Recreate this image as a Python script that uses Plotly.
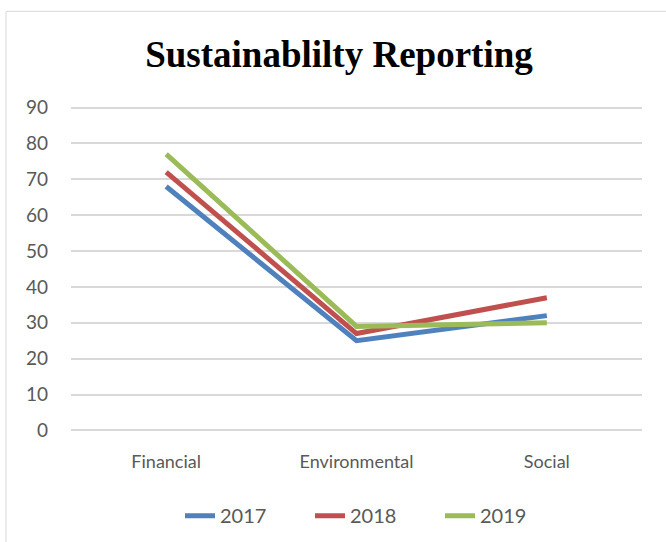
import plotly.graph_objects as go

categories = ["Financial", "Environmental", "Social"]
series_names = ["2017", "2018", "2019"]
values_2017 = [68, 25, 32]
values_2018 = [72, 27, 37]
values_2019 = [77, 29, 30]
colors = ["#4F81BD", "#C0504D", "#9BBB59"]
title_text = "Sustainablilty Reporting"

fig = go.Figure()
for name, vals, col in zip(series_names, [values_2017, values_2018, values_2019], colors):
    fig.add_trace(go.Scatter(x=categories, y=vals, mode="lines", name=name,
                             line=dict(color=col, width=5)))

W, H = 666, 542
top90, bot0 = 108, 430
upp = (bot0 - top90) / 90.0  # pixels per unit
pad = 1.0
L, R = 71, 24
T = top90 - pad * upp
B = H - bot0 - pad * upp
pw, ph = W - L - R, H - T - B

def px2x(px):
    return (px - L) / pw

def py2y(py):
    return (H - B - py) / ph

fig.add_shape(type="rect", xref="paper", yref="paper",
              x0=px2x(6), x1=px2x(700), y0=py2y(600), y1=py2y(12),
              line=dict(color="#D9D9D9", width=1), fillcolor="rgba(0,0,0,0)", layer="below")

fig.update_layout(
    width=W, height=H,
    margin=dict(l=L, r=R, t=T, b=B, autoexpand=False),
    paper_bgcolor="white", plot_bgcolor="white",
    title=dict(text="<b>" + title_text + "</b>", x=px2x(339), xref="paper", xanchor="center",
               y=1 - 54 / H, yanchor="middle",
               font=dict(family="Liberation Serif", size=37, color="black")),
    xaxis=dict(type="category", range=[-0.5, 2.5], showgrid=False, zeroline=False,
               showline=False, ticks="", ticklabelstandoff=15,
               tickfont=dict(family="Lato", size=18, color="#595959")),
    yaxis=dict(range=[-pad, 90 + pad], tickvals=list(range(0, 91, 10)), showgrid=True,
               gridcolor="#D9D9D9", gridwidth=1.5,
               zeroline=False, showline=False, ticks="", ticklabelstandoff=22,
               tickfont=dict(family="Lato", size=19, color="#595959")),
    legend=dict(orientation="h", x=px2x(180), xanchor="left", y=py2y(515), yanchor="middle",
                font=dict(family="Lato", size=20, color="#595959"),
                entrywidth=85, entrywidthmode="pixels"),
    showlegend=True,
)

fig.write_html("out.html")
